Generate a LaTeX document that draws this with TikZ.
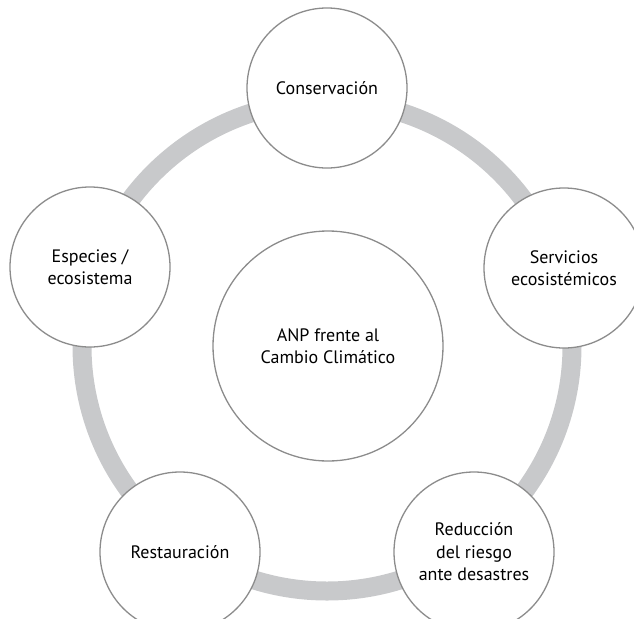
\documentclass[tikz,border=0pt]{standalone}
\usepackage{fontspec}
\setmainfont{PT Sans}
\begin{document}
\begin{tikzpicture}[x=1pt,y=-1pt,
  ringline/.style={draw=ringgray,line width=19pt},
  topic/.style={circle,draw=edgegray,line width=1.3pt,fill=white,minimum size=160pt,inner sep=0pt,align=center,font=\fontsize{18}{22.5}\selectfont,text=black},
  hub/.style={topic,minimum size=230pt}]
\definecolor{ringgray}{HTML}{C8C9CB}
\definecolor{edgegray}{HTML}{8C8C8C}
\useasboundingbox (0,0) rectangle (634,618);
\coordinate (o) at (327,346);
\draw[ringline] (o) circle[radius=245];
\node[hub] (anp) at (328,346) {ANP frente al\\Cambio Climático};
\node[topic] (cons) at (327,88) {Conservación};
\node[topic] (serv) at (564,268) {Servicios\\ecosistémicos};
\node[topic] (redu) at (474,552) {Reducción\\del riesgo\\ante desastres};
\node[topic] (rest) at (180,552) {Restauración};
\node[topic] (espe) at (90,267) {Especies /\\ecosistema};
\end{tikzpicture}
\end{document}
